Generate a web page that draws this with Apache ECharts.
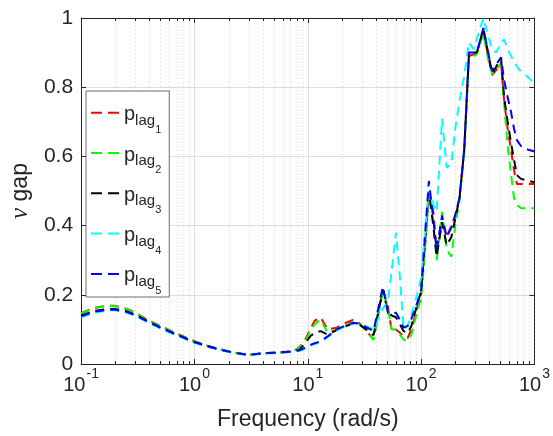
<!DOCTYPE html>
<html>
<head>
<meta charset="utf-8">
<script src="https://cdn.jsdelivr.net/npm/echarts@6/dist/echarts.min.js"></script>
<style>html,body{margin:0;padding:0;background:#fff}#c{width:553px;height:436px}</style>
</head>
<body>
<div id="c"></div>
<script>
// ---- data ----
const freq = [0.1, 0.13, 0.17, 0.2, 0.25, 0.3, 0.4, 0.5, 0.7, 1.0, 1.3, 1.7, 2.2, 3.0, 4.0, 5.5, 7.5,
  8.5, 9.5, 10.5, 11.5, 13, 15, 18, 22, 25, 28, 32, 38, 46, 51, 55, 60, 65, 70, 76, 82, 92, 100,
  107, 117, 128, 137, 153, 168, 185, 200, 218, 240, 264, 290, 310, 354, 390, 423, 460, 507, 540, 580, 620, 660, 700, 760, 870, 1000];

const pLag1 = [0.147,0.162,0.169,0.168,0.160,0.149,0.125,0.110,0.088,0.066,0.053,0.042,0.034,0.026,0.031,0.033,0.037,
  0.050,0.070,0.100,0.125,0.134,0.100,0.105,0.120,0.127,0.121,0.100,0.071,0.215,0.165,0.095,0.100,0.090,0.080,0.075,0.100,0.160,0.200,
  0.320,0.500,0.440,0.330,0.410,0.367,0.400,0.430,0.480,0.620,0.890,0.895,0.900,0.960,0.890,0.835,0.850,0.870,0.760,0.680,0.620,0.560,0.520,0.520,0.520,0.520];
const pLag2 = [0.146,0.161,0.168,0.167,0.159,0.148,0.124,0.109,0.087,0.065,0.053,0.042,0.034,0.026,0.031,0.033,0.037,
  0.048,0.065,0.095,0.115,0.128,0.090,0.100,0.113,0.120,0.117,0.100,0.070,0.210,0.160,0.100,0.100,0.085,0.070,0.068,0.085,0.150,0.190,
  0.310,0.490,0.410,0.300,0.440,0.330,0.310,0.400,0.470,0.610,0.880,0.890,0.895,0.955,0.880,0.838,0.850,0.870,0.750,0.630,0.550,0.480,0.460,0.450,0.450,0.450];
const pLag3 = [0.140,0.153,0.159,0.159,0.153,0.143,0.121,0.106,0.085,0.064,0.052,0.041,0.033,0.026,0.031,0.033,0.036,
  0.042,0.060,0.080,0.090,0.095,0.085,0.098,0.110,0.117,0.115,0.103,0.083,0.215,0.150,0.140,0.135,0.115,0.095,0.090,0.110,0.170,0.210,
  0.330,0.500,0.400,0.310,0.410,0.343,0.367,0.420,0.480,0.620,0.895,0.900,0.900,0.970,0.900,0.840,0.860,0.885,0.770,0.700,0.640,0.590,0.546,0.535,0.530,0.525];
const pLag4 = [0.135,0.148,0.155,0.155,0.149,0.140,0.118,0.103,0.082,0.062,0.050,0.040,0.032,0.025,0.030,0.032,0.035,
  0.038,0.045,0.052,0.058,0.064,0.078,0.097,0.110,0.117,0.117,0.110,0.100,0.160,0.180,0.270,0.380,0.250,0.100,0.110,0.140,0.200,0.250,
  0.360,0.500,0.460,0.440,0.709,0.567,0.581,0.680,0.760,0.833,0.929,0.910,0.940,1.000,0.950,0.910,0.900,0.930,0.938,0.910,0.890,0.875,0.860,0.845,0.830,0.810];
const pLag5 = [0.138,0.151,0.157,0.157,0.151,0.141,0.120,0.105,0.084,0.063,0.051,0.041,0.033,0.026,0.031,0.033,0.036,
  0.040,0.047,0.055,0.060,0.066,0.080,0.100,0.113,0.119,0.117,0.108,0.095,0.224,0.147,0.147,0.148,0.128,0.105,0.110,0.130,0.175,0.215,
  0.350,0.529,0.420,0.330,0.429,0.367,0.395,0.430,0.480,0.620,0.900,0.900,0.900,0.971,0.900,0.847,0.866,0.886,0.820,0.770,0.730,0.680,0.647,0.630,0.620,0.614];

const seriesNames = ['p_lag_1', 'p_lag_2', 'p_lag_3', 'p_lag_4', 'p_lag_5'];
const legendSubs = ['1', '2', '3', '4', '5'];
const seriesColors = ['#ff0000', '#00ff00', '#000000', '#00ffff', '#0000ff'];
const seriesValues = [pLag1, pLag2, pLag3, pLag4, pLag5];

const xTickValues = [0.1, 1, 10, 100, 1000];
const xTickBase = ['10', '10', '10', '10', '10'];
const xTickExp = ['-1', '0', '1', '2', '3'];
const minorMultipliers = [2, 3, 4, 5, 6, 7, 8, 9];
const xTitle = 'Frequency (rad/s)';
const yTitleSym = 'ν';
const yTitleRest = ' gap';

// ---- build ----
const FONT = '"Liberation Sans", Arial, Helvetica, sans-serif';
const AX = '#262626';

const minorData = [];
for (let i = 0; i < xTickValues.length - 1; i++) {
  minorMultipliers.forEach(m => minorData.push([+(xTickValues[i] * m).toPrecision(6), 0]));
}

const lineSeries = seriesNames.map((n, i) => ({
  name: n,
  type: 'line',
  data: freq.map((f, k) => [f, seriesValues[i][k]]),
  showSymbol: false,
  symbol: 'none',
  color: seriesColors[i],
  lineStyle: { color: seriesColors[i], width: 2, type: [9, 6] },
  z: 3,
  animation: false
}));

const minorSeries = {
  type: 'custom',
  name: 'minor',
  data: minorData,
  encode: { x: 0, y: 1 },
  z: 1,
  silent: true,
  animation: false,
  clip: false,
  renderItem: function (params, api) {
    const p = api.coord([api.value(0), 0]);
    const cs = params.coordSys;
    const x = Math.round(p[0]) + 0.5;
    const top = cs.y, bot = cs.y + cs.height;
    return {
      type: 'group',
      children: [
        { type: 'line', shape: { x1: x, y1: top, x2: x, y2: bot }, style: { stroke: '#d2d2d2', lineWidth: 1, lineDash: [1, 3] } },
        { type: 'line', shape: { x1: x, y1: bot, x2: x, y2: bot - 3 }, style: { stroke: AX, lineWidth: 1 } },
        { type: 'line', shape: { x1: x, y1: top, x2: x, y2: top + 3 }, style: { stroke: AX, lineWidth: 1 } }
      ]
    };
  }
};

const chart = echarts.init(document.getElementById('c'), null, { renderer: 'canvas' });
chart.setOption({
  animation: false,
  backgroundColor: '#ffffff',
  textStyle: { fontFamily: FONT },
  grid: { left: 68, right: 15, top: 18, bottom: 68, containLabel: false },
  legend: {
    data: seriesNames,
    orient: 'vertical',
    left: 86,
    top: 91,
    padding: [11.7, 8, 0.5, 4],
    itemGap: 7.7,
    itemWidth: 28,
    itemHeight: 20,
    backgroundColor: '#ffffff',
    borderColor: '#6e6e6e',
    borderWidth: 1,
    borderRadius: 0,
    selectedMode: false,
    itemStyle: { opacity: 0 },
    lineStyle: { width: 2, type: [11, 6] },
    formatter: function (name) {
      const i = seriesNames.indexOf(name);
      return '{p|p}{l|lag}{s|' + legendSubs[i] + '}';
    },
    textStyle: {
      color: AX,
      fontFamily: FONT,
      rich: {
        p: { fontSize: 20, lineHeight: 20, verticalAlign: 'top', padding: [2, 0, 0, 0], fontFamily: FONT, color: AX },
        l: { fontSize: 15, lineHeight: 15, verticalAlign: 'top', padding: [10.4, 0, 0, 0], fontFamily: FONT, color: AX },
        s: { fontSize: 11, lineHeight: 11, verticalAlign: 'top', padding: [21.6, 0, 0, 0], fontFamily: FONT, color: AX }
      }
    }
  },
  xAxis: [{
    type: 'log',
    logBase: 10,
    min: 0.1,
    max: 1000,
    name: xTitle,
    nameLocation: 'middle',
    nameGap: 44,
    nameTextStyle: { fontSize: 23, color: AX, fontFamily: FONT },
    axisLine: { show: true, onZero: false, lineStyle: { color: AX, width: 1 } },
    axisTick: { show: true, inside: true, length: 5, lineStyle: { color: AX } },
    splitLine: { show: true, lineStyle: { color: '#dedede', width: 1 } },
    minorTick: { show: false },
    axisLabel: {
      margin: 3,
      formatter: function (v) {
        let i = xTickValues.findIndex(t => Math.abs(Math.log10(t) - Math.log10(v)) < 1e-6);
        if (i < 0) return '';
        return '{b|' + xTickBase[i] + '}{e|' + xTickExp[i] + '}';
      },
      rich: {
        b: { fontSize: 20, lineHeight: 20, verticalAlign: 'top', padding: [8, 0, 0, 0], color: AX, fontFamily: FONT },
        e: { fontSize: 14, lineHeight: 14, verticalAlign: 'top', padding: [0, 0, 0, 1], color: AX, fontFamily: FONT }
      }
    }
  }, {
    type: 'log',
    logBase: 10,
    min: 0.1,
    max: 1000,
    position: 'top',
    axisLine: { show: true, onZero: false, lineStyle: { color: AX, width: 1 } },
    axisTick: { show: true, inside: true, length: 5, lineStyle: { color: AX } },
    axisLabel: { show: false },
    splitLine: { show: false }
  }],
  yAxis: [{
    type: 'value',
    min: 0,
    max: 1,
    interval: 0.2,
    name: '{n|' + yTitleSym + '}{g|' + yTitleRest + '}',
    nameLocation: 'middle',
    nameGap: 32,
    nameTextStyle: {
      fontSize: 23, color: AX, fontFamily: FONT,
      rich: {
        n: { fontSize: 25, fontStyle: 'italic', fontFamily: '"Liberation Serif", "DejaVu Serif", serif', color: AX },
        g: { fontSize: 23, fontFamily: FONT, color: AX }
      }
    },
    axisLine: { show: true, onZero: false, lineStyle: { color: AX, width: 1 } },
    axisTick: { show: true, inside: true, length: 5, lineStyle: { color: AX } },
    splitLine: { show: true, lineStyle: { color: '#dedede', width: 1 } },
    axisLabel: { fontSize: 21, color: AX, margin: 8, fontFamily: FONT }
  }, {
    type: 'value',
    min: 0,
    max: 1,
    interval: 0.2,
    position: 'right',
    axisLine: { show: true, onZero: false, lineStyle: { color: AX, width: 1 } },
    axisTick: { show: true, inside: true, length: 5, lineStyle: { color: AX } },
    axisLabel: { show: false },
    splitLine: { show: false }
  }],
  series: [minorSeries].concat(lineSeries)
});
</script>
</body>
</html>
